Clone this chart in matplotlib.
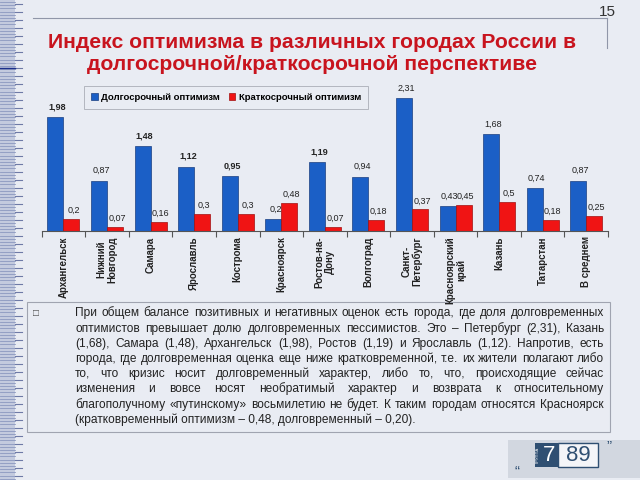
import matplotlib
matplotlib.use('Agg')
import matplotlib.pyplot as plt
import numpy as np

plt.rcParams['font.family'] = ['Liberation Sans', 'DejaVu Sans']

# данные
cities = ['Архангельск', 'Нижний\nНовгород', 'Самара', 'Ярославль', 'Кострома',
          'Красноярск', 'Ростов-на-\nДону', 'Волгоград', 'Санкт-\nПетербург',
          'Красноярский\nкрай', 'Казань', 'Татарстан', 'В среднем']
long_opt = [1.98, 0.87, 1.48, 1.12, 0.95, 0.20, 1.19, 0.94, 2.31, 0.43, 1.68, 0.74, 0.87]
short_opt = [0.20, 0.07, 0.16, 0.30, 0.30, 0.48, 0.07, 0.18, 0.37, 0.45, 0.50, 0.18, 0.25]
long_bold = [1, 0, 1, 1, 1, 0, 1, 0, 0, 0, 0, 0, 0]

title = 'Индекс оптимизма в различных городах России в\nдолгосрочной/краткосрочной перспективе'
body_lines = [
    'При общем балансе позитивных и негативных оценок есть города, где доля долговременных',
    'оптимистов превышает долю долговременных пессимистов. Это – Петербург (2,31), Казань',
    '(1,68), Самара (1,48), Архангельск (1,98), Ростов (1,19) и Ярославль (1,12). Напротив, есть',
    'города, где долговременная оценка еще ниже кратковременной, т.е. их жители полагают либо',
    'то, что кризис носит долговременный характер, либо то, что, происходящие сейчас',
    'изменения и вовсе носят необратимый характер и возврата к относительному',
    'благополучному «путинскому» восьмилетию не будет. К таким городам относятся Красноярск',
    '(кратковременный оптимизм – 0,48, долговременный – 0,20).',
]

bg = '#e9ecf3'
blue = '#1b5fc6'
red = '#f01414'
W, H = 640, 480

fig = plt.figure(figsize=(6.4, 4.8), dpi=100, facecolor=bg)

# фон и оформление слайда
deco = fig.add_axes([0, 0, 1, 1])
deco.set_xlim(0, W)
deco.set_ylim(H, 0)
deco.axis('off')
deco.add_patch(plt.Rectangle((0, 0), 15, H, color='#c3cade', lw=0))
for y in np.arange(2, H, 3.2):
    deco.plot([0, 15], [y, y], color='#8c98c0', lw=0.6)
for y in np.arange(4, H, 8):
    deco.plot([15, 22], [y, y], color='#6e7aa6', lw=0.8)
deco.plot([0, 15], [68, 68], color='#1b2f8a', lw=1)
deco.plot([33, 607], [17.5, 17.5], color='#9096a8', lw=0.8)
deco.plot([607, 607], [17.5, 48], color='#9096a8', lw=0.8)
deco.text(607, 12, '15', fontsize=11, color='#333333', ha='center', va='center')
deco.text(312, 53, title, fontsize=15.2, fontweight='bold', color='#c8141e',
          ha='center', va='center', linespacing=1.2)

# текстовый блок
deco.add_patch(plt.Rectangle((27, 302), 583, 130, fill=False, ec='#a0a4b0', lw=0.8))
deco.text(36, 313, '\u25a1', fontsize=7, color='#444444', ha='center', va='center')
fig.canvas.draw()
rend = fig.canvas.get_renderer()
x0, x1 = 75, 604
probe = deco.text(0, 0, body_lines[0], fontsize=10)
fs = 10 * (x1 - x0) / probe.get_window_extent(rend).width * 0.985
probe.remove()
for i, line in enumerate(body_lines):
    y = round(316.5 + i * 15.2)
    words = line.split(' ')
    if i == len(body_lines) - 1:
        deco.text(x0, y, line, fontsize=fs, color='#222222', ha='left', va='baseline')
        continue
    ts = [deco.text(0, y, w, fontsize=fs, color='#222222', ha='left', va='baseline') for w in words]
    widths = [t.get_window_extent(rend).width for t in ts]
    gap = (x1 - x0 - sum(widths)) / (len(words) - 1)
    x = x0
    for t, w in zip(ts, widths):
        t.set_x(x)
        x += w + gap

# логотип
deco.add_patch(plt.Rectangle((508, 440), 132, 38, color='#d2d7e0', lw=0))
deco.add_patch(plt.Rectangle((535, 443), 23, 24, color='#2f4f72', lw=0))
deco.add_patch(plt.Rectangle((558, 443), 40, 24, fc='#f4f5f8', ec='#2f4f72', lw=1))
deco.text(549, 455.5, '7', fontsize=16, color='white', ha='center', va='center')
deco.text(578, 455.5, '89', fontsize=16, color='#2f4f72', ha='center', va='center')
deco.text(538, 455, 'ГРУППА', fontsize=3, color='white', rotation=90, ha='center', va='center')
deco.text(517, 472, '\u201c', fontsize=11, color='#2f4f72', ha='center', va='center')
deco.text(609, 446, '\u201d', fontsize=11, color='#2f4f72', ha='center', va='center')

# график
ax = fig.add_axes([41.7 / W, 1 - 230.7 / H, (608 - 41.7) / W, 143.3 / H])
ax.patch.set_alpha(0)
x = np.arange(len(cities))
bw = 0.367
ax.bar(x - bw / 2, long_opt, bw, color=blue, ec='#1a3f80', lw=0.5, label='Долгосрочный оптимизм')
ax.bar(x + bw / 2, short_opt, bw, color=red, ec='#a01010', lw=0.5, label='Краткосрочный оптимизм')
ax.set_xlim(-0.5, len(cities) - 0.5)
ax.set_ylim(0, 2.5)
for i in range(len(cities)):
    ax.annotate(f'{long_opt[i]:g}'.replace('.', ','), (x[i] - bw / 2, long_opt[i]),
                xytext=(1.5, 4), textcoords='offset points', ha='center', va='bottom',
                fontsize=6.5, color='#222222', fontweight='bold' if long_bold[i] else 'normal')
    ax.annotate(f'{short_opt[i]:g}'.replace('.', ','), (x[i] + bw / 2, short_opt[i]),
                xytext=(1.5, 3), textcoords='offset points', ha='center', va='bottom',
                fontsize=6.5, color='#222222')
for s in ['top', 'right', 'left']:
    ax.spines[s].set_visible(False)
ax.spines['bottom'].set_color('#555555')
ax.set_yticks([])
ax.set_xticks(np.arange(len(cities) + 1) - 0.5, minor=False)
ax.set_xticklabels([])
ax.tick_params(axis='x', length=4, color='#555555', direction='out')
for i, c in enumerate(cities):
    ax.text(x[i], -0.1, c, rotation=90, ha='center', va='top', fontsize=7,
            fontweight='bold', color='#222222', linespacing=1.1)
leg = ax.legend(loc='upper left', bbox_to_anchor=(38 / 566.3, 1.04), ncol=2,
                frameon=True, handlelength=0.7, handleheight=0.7, handletextpad=0.4,
                columnspacing=0.9, borderpad=0.7, fancybox=False, prop={'weight': 'bold', 'size': 6.8})
leg.get_frame().set_facecolor(bg)
leg.get_frame().set_edgecolor('#9a9ea8')
leg.get_frame().set_linewidth(0.6)

fig.savefig('out.png', dpi=100, facecolor=bg)
